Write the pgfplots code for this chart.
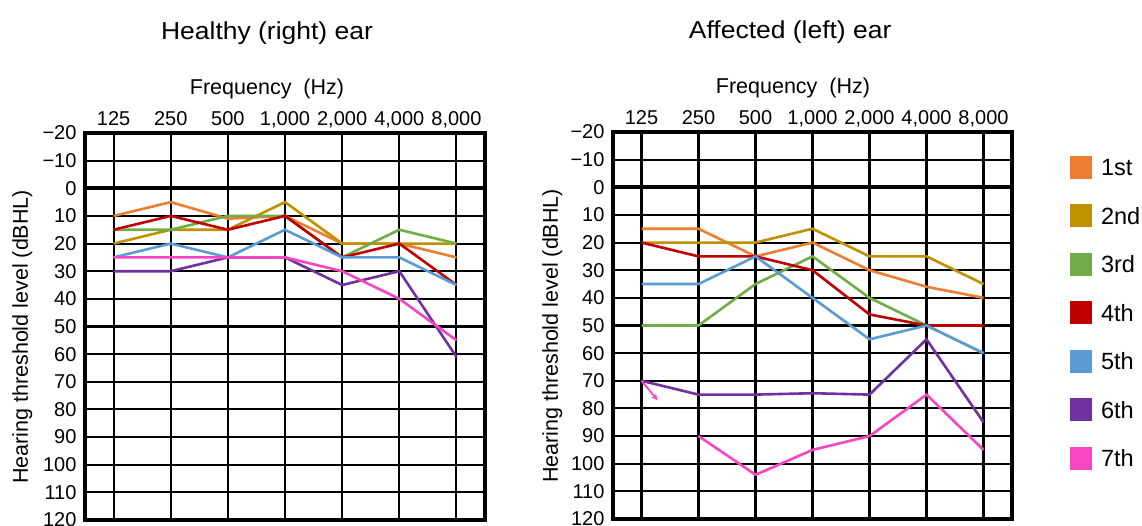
\documentclass[border=0pt]{standalone}
\usepackage{fontspec}
\setmainfont{Liberation Sans}
\newfontfamily\titlefont[FakeStretch=1.08]{Liberation Sans}
\usepackage{pgfplots}
\pgfplotsset{compat=1.18}

\definecolor{c1}{HTML}{ED7D31}
\definecolor{c2}{HTML}{BF9000}
\definecolor{c3}{HTML}{70AD47}
\definecolor{c4}{HTML}{C00000}
\definecolor{c5}{HTML}{5B9BD5}
\definecolor{c6}{HTML}{7030A0}
\definecolor{c7}{HTML}{F845C2}

\pgfplotsset{
  audiogram/.style={
    scale only axis, anchor=south west,
    height=387pt,
    xmin=-0.5, xmax=6.5, ymin=-20, ymax=120, y dir=reverse,
    xtick={0,...,6},
    xticklabels={125,250,500,{1,000},{2,000},{4,000},{8,000}},
    xticklabel pos=upper,
    ytick={-20,-10,...,120},
    yticklabels={−20,−10,0,10,20,30,40,50,60,70,80,90,100,110,120},
    /pgf/number format/assume math mode=true,
    grid=major, major grid style={black, line width=2.1pt},
    extra y ticks={0}, extra y tick labels={},
    extra y tick style={major grid style={black, line width=3.6pt}},
    axis line style={line width=4pt},
    tick style={draw=none},
    tick label style={font=\fontsize{20}{22}\selectfont},
    xticklabel style={text depth=4pt, yshift=0pt},
    yticklabel style={xshift=-5pt},
    xlabel={Frequency\ \ (Hz)},
    ylabel={Hearing threshold level (dBHL)},
    label style={font=\fontsize{21.5}{24}\selectfont},
    title style={font=\titlefont\fontsize{24.5}{28}\selectfont, anchor=base, yshift=87pt},
    every axis plot/.append style={line width=2.6pt, no marks},
  }
}

\begin{document}
\begin{tikzpicture}
\useasboundingbox (0,0) rectangle (1142pt,526pt);

% healthy (right) ear
\begin{axis}[audiogram, at={(85pt,6pt)}, width=400pt,
  title={Healthy (right) ear},
  title style={at={(axis description cs:0.455,1)}},
  xlabel style={at={(axis description cs:0.455,1)}, anchor=base, yshift=38pt},
  ylabel style={at={(axis description cs:-0.157,0.473)}, anchor=center},
]
\addplot[c1] coordinates {(0,10) (1,5) (2,11) (3,10) (4,20) (5,20) (6,25)};
\addplot[c2] coordinates {(0,20) (1,15) (2,15) (3,5) (4,20) (5,20) (6,20)};
\addplot[c3] coordinates {(0,15) (1,15) (2,10) (3,10) (4,25) (5,15) (6,20)};
\addplot[c4] coordinates {(0,15) (1,10) (2,15) (3,10) (4,25) (5,20) (6,35)};
\addplot[c5] coordinates {(0,25) (1,20) (2,25) (3,15) (4,25) (5,25) (6,35)};
\addplot[c6] coordinates {(0,30) (1,30) (2,25) (3,25) (4,35) (5,30) (6,61)};
\addplot[c7] coordinates {(0,25) (1,25) (2,25) (3,25) (4,30) (5,40) (6,55)};
\end{axis}

% affected (left) ear
\begin{axis}[audiogram, at={(613pt,7pt)}, width=399pt,
  title={Affected (left) ear},
  title style={at={(axis description cs:0.444,1)}},
  xlabel style={at={(axis description cs:0.451,1)}, anchor=base, yshift=38pt},
  ylabel style={at={(axis description cs:-0.152,0.473)}, anchor=center},
  legend style={at={(axis description cs:1.1454,0.9380)}, anchor=north west,
    draw=none, fill=none, inner sep=0pt, outer sep=0pt,
    row sep=25.5pt, column sep=9pt,
    font=\fontsize{23.5}{26}\selectfont,
    nodes={inner sep=0pt, text height=16.8pt, text depth=0pt}},
  legend cell align=left,
  legend image code/.code={\fill[#1, draw=none] (0pt,-11.5pt) rectangle (22pt,11.5pt);},
]
\addplot[c1] coordinates {(0,15) (1,15) (2,25) (3,20) (4,30) (5,36) (6,40)};
\addplot[c2] coordinates {(0,20) (1,20) (2,20) (3,15) (4,25) (5,25) (6,35)};
\addplot[c3] coordinates {(0,50) (1,50) (2,35) (3,25) (4,40) (5,50) (6,60)};
\addplot[c4] coordinates {(0,20) (1,25) (2,25) (3,30) (4,46) (5,50) (6,50)};
\addplot[c5] coordinates {(0,35) (1,35) (2,25) (3,40) (4,55) (5,50) (6,60)};
\addplot[c6] coordinates {(0,70) (1,75) (2,75) (3,74.5) (4,75) (5,55) (6,85)};
\addplot[c7] coordinates {(1,90) (2,104) (3,95) (4,90) (5,75) (6,95)};
\addplot[c7, line width=1.8pt, -stealth, forget plot] coordinates {(0,70) (0.28,77)};
\legend{1st,2nd,3rd,4th,5th,6th,7th}
\end{axis}
\end{tikzpicture}
\end{document}
